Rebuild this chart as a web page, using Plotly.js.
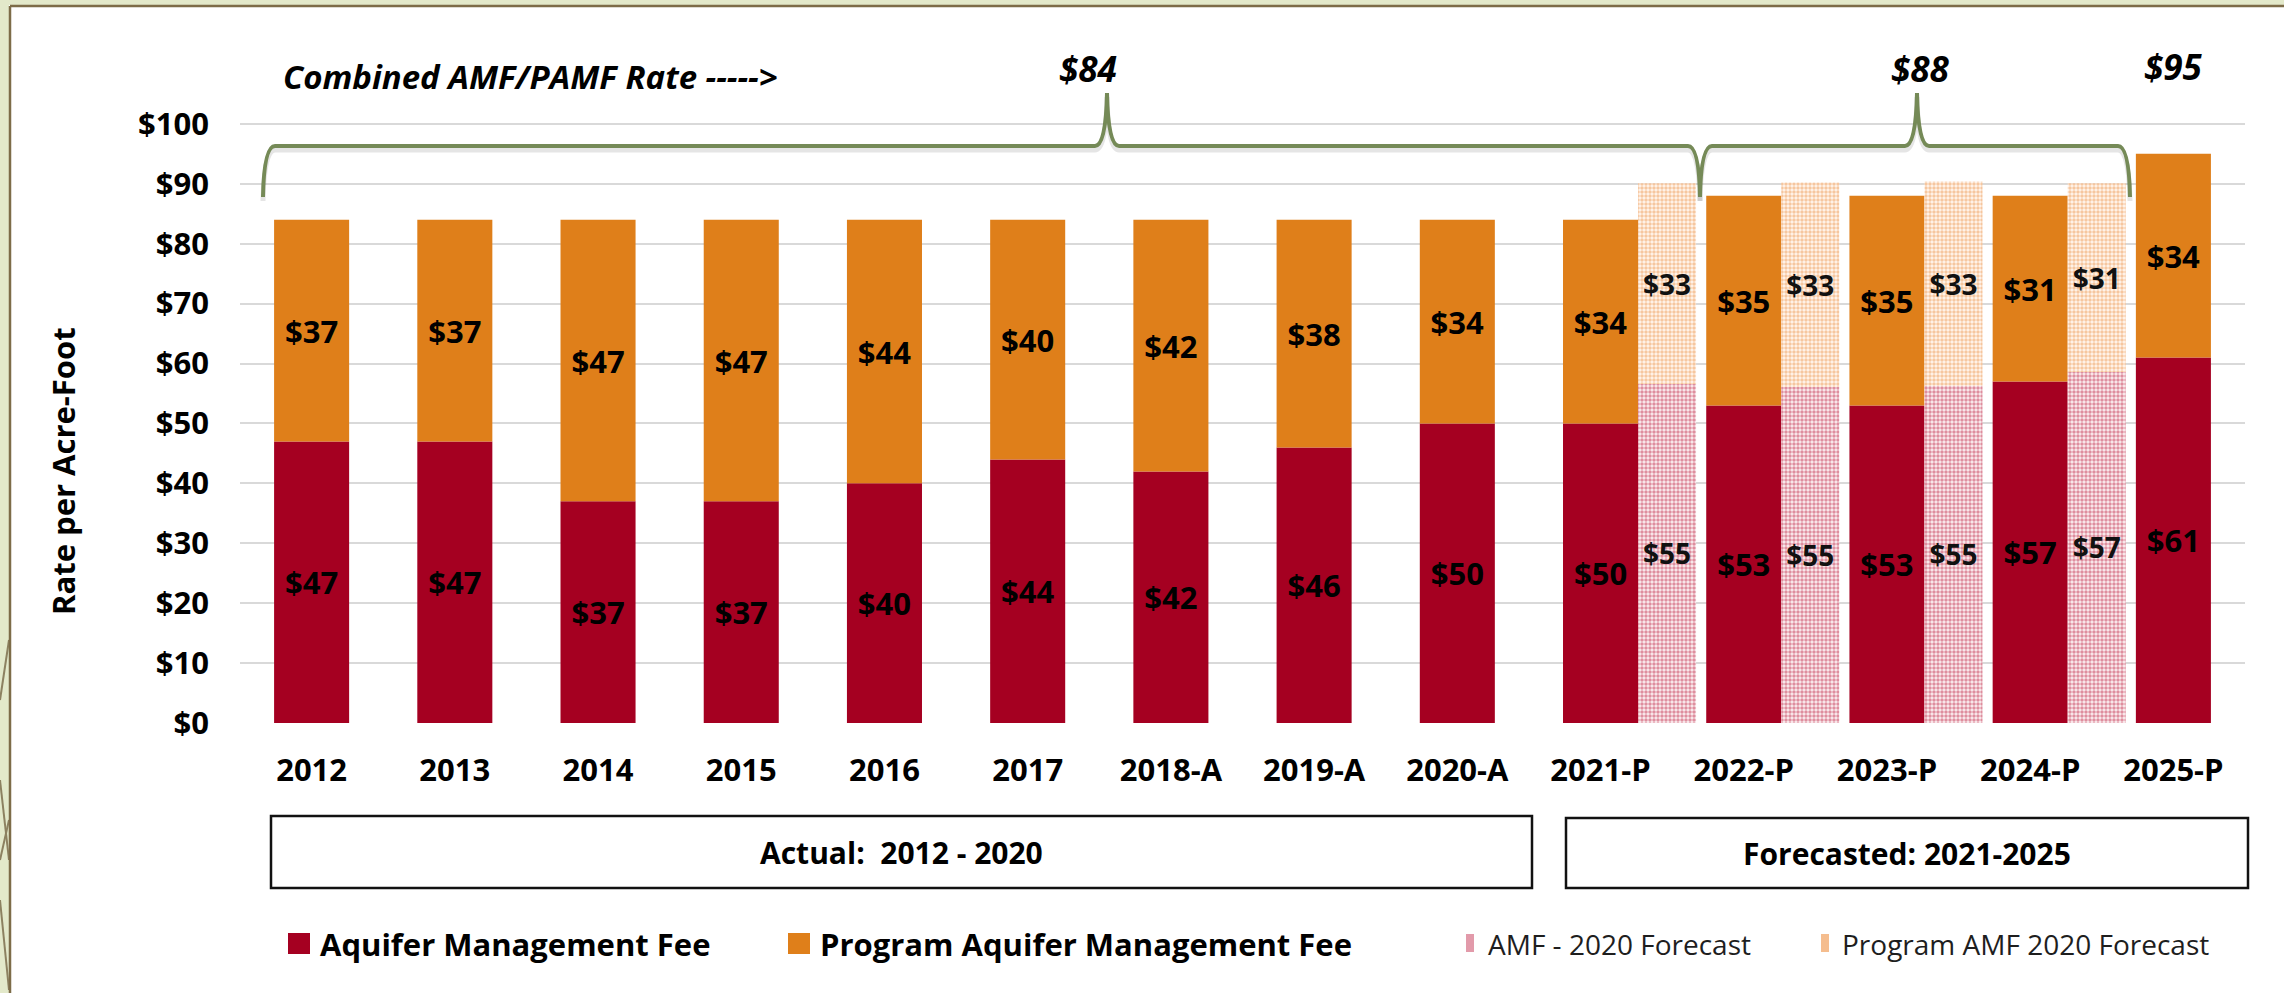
<!DOCTYPE html>
<html>
<head>
<meta charset="utf-8">
<script src="https://cdn.plot.ly/plotly-3.0.1.min.js"></script>
<style>
  html, body { margin: 0; padding: 0; background: #ffffff; }
  #chart { width: 2284px; height: 993px; }
</style>
</head>
<body>
<div id="chart"></div>
<script>
// ---------------- DATA ----------------
const categories = ['2012','2013','2014','2015','2016','2017','2018-A','2019-A','2020-A','2021-P','2022-P','2023-P','2024-P','2025-P'];
const amf  = [47, 47, 37, 37, 40, 44, 42, 46, 50, 50, 53, 53, 57, 61];
const pamf = [37, 37, 47, 47, 44, 40, 42, 38, 34, 34, 35, 35, 31, 34];

const forecastCats = ['2021-P','2022-P','2023-P','2024-P'];
const amfForecast  = [56.6, 56.1, 56.3, 58.6];
const pamfForecast = [33.5, 34.1, 34.1, 31.5];
const amfForecastLabels  = ['$55','$55','$55','$57'];
const pamfForecastLabels = ['$33','$33','$33','$31'];

const seriesNames = ['Aquifer Management Fee','Program Aquifer Management Fee','AMF - 2020 Forecast','Program AMF 2020 Forecast'];
const combinedLabel = 'Combined AMF/PAMF Rate ----->';
const combinedRates = ['$84','$88','$95'];
const periodLabels = ['Actual:&nbsp; 2012 - 2020','Forecasted: 2021-2025'];
const yTickVals = [0,10,20,30,40,50,60,70,80,90,100];
const yTitle = 'Rate per Acre-Foot';

// ---------------- STYLE ----------------
const RED = '#A50021', ORANGE = '#DF7F1A';
const FONT = "'Open Sans', 'Liberation Sans', Arial, sans-serif";
const W = 2284, H = 993, ML = 240, MR = 39, MT = 34, MB = 270;
const PW = W - ML - MR, PH = H - MT - MB;
const px = p => (p - ML) / PW;        // pixel x -> paper x
const py = p => (H - MB - p) / PH;    // pixel y -> paper y

const idx = categories.map((c, i) => i);
const fIdx = forecastCats.map(c => categories.indexOf(c));
const MAINW = 0.524, FW = 0.405;

const mainFont = { family: FONT, size: 31, color: '#000', weight: 'bold' };
const fcFont = { family: FONT, size: 28, color: '#111', weight: 'bold' };

const traces = [
  {
    type: 'bar', name: seriesNames[0], x: idx, y: amf, width: MAINW,
    marker: { color: RED },
    text: amf, texttemplate: '$%{text}', textposition: 'inside', insidetextanchor: 'middle', textangle: 0,
    insidetextfont: mainFont, constraintext: 'none', hoverinfo: 'skip', showlegend: false
  },
  {
    type: 'bar', name: seriesNames[1], x: idx, y: pamf, base: amf, width: MAINW,
    marker: { color: ORANGE },
    text: pamf, texttemplate: '$%{text}', textposition: 'inside', insidetextanchor: 'middle', textangle: 0,
    insidetextfont: mainFont, constraintext: 'none', hoverinfo: 'skip', showlegend: false
  },
  {
    type: 'bar', name: seriesNames[2], x: fIdx, y: amfForecast, width: FW, offset: MAINW / 2,
    marker: { color: '#FFFFFF', pattern: { shape: '.', fgcolor: '#C22E4C', bgcolor: '#FBEFF1', size: 4, solidity: 0.6, fillmode: 'overlay' } },
    text: amfForecastLabels, texttemplate: '%{text}', textposition: 'inside', insidetextanchor: 'middle', textangle: 0,
    insidetextfont: fcFont, constraintext: 'none', hoverinfo: 'skip', showlegend: false
  },
  {
    type: 'bar', name: seriesNames[3], x: fIdx, y: pamfForecast, base: amfForecast, width: FW, offset: MAINW / 2,
    marker: { color: '#FFFFFF', pattern: { shape: '.', fgcolor: '#EE9550', bgcolor: '#FFF6EE', size: 4, solidity: 0.6, fillmode: 'overlay' } },
    text: pamfForecastLabels, texttemplate: '%{text}', textposition: 'inside', insidetextanchor: 'middle', textangle: 0,
    insidetextfont: fcFont, constraintext: 'none', hoverinfo: 'skip', showlegend: false
  }
];

// ---------- decorative shapes (pixel positions converted to paper) ----------
function pathFromPx(pts) {
  return pts.map(s => s.replace(/(-?\d+(?:\.\d+)?),(-?\d+(?:\.\d+)?)/g,
    (m, a, b) => px(+a).toFixed(5) + ',' + py(+b).toFixed(5))).join(' ');
}
function brace(x0, xp, x1, yEnd, yH, yPeak) {
  return pathFromPx([
    `M${x0},${yEnd}`, `Q${x0+1},${yH} ${x0+12},${yH}`,
    `L${xp-12},${yH}`, `Q${xp-1},${yH} ${xp},${yPeak}`,
    `Q${xp+1},${yH} ${xp+12},${yH}`,
    `L${x1-12},${yH}`, `Q${x1-1},${yH} ${x1},${yEnd}`
  ]);
}
const braces = [brace(263, 1107, 1700, 197, 146, 93), brace(1700, 1917, 2130, 197, 146, 93)];

const shapes = [];
// slide frame
shapes.push({ type: 'rect', xref: 'paper', yref: 'paper', x0: px(0), x1: px(9), y0: py(993), y1: py(0), fillcolor: '#E3E9CA', line: { width: 0 }, layer: 'below' });
shapes.push({ type: 'rect', xref: 'paper', yref: 'paper', x0: px(0), x1: px(2284), y0: py(5), y1: py(0), fillcolor: '#E3E9CA', line: { width: 0 }, layer: 'below' });
[[0,700,9,640],[0,780,9,860],[0,900,9,990],[0,860,9,820]].forEach(s => shapes.push({ type: 'line', xref: 'paper', yref: 'paper', x0: px(s[0]), y0: py(s[1]), x1: px(s[2]), y1: py(s[3]), line: { color: '#8C8160', width: 2 } }));
shapes.push({ type: 'line', xref: 'paper', yref: 'paper', x0: px(10), x1: px(10), y0: py(6), y1: py(993), line: { color: '#7D6C48', width: 2.5 } });
shapes.push({ type: 'line', xref: 'paper', yref: 'paper', x0: px(10), x1: px(2284), y0: py(6), y1: py(6), line: { color: '#7D6C48', width: 2.5 } });
// braces (shadow then line)
braces.forEach(p => shapes.push({ type: 'path', xref: 'paper', yref: 'paper', path: p.replace(/,(-?\d+\.\d+)/g, (m, v) => ',' + (+v - 4 / PH).toFixed(5)), line: { color: 'rgba(0,0,0,0.10)', width: 5 } }));
braces.forEach(p => shapes.push({ type: 'path', xref: 'paper', yref: 'paper', path: p, line: { color: '#758A57', width: 4 } }));
// period boxes
const boxes = [[271, 816, 1532, 888], [1566, 818, 2248, 888]];
boxes.forEach(b => shapes.push({ type: 'rect', xref: 'paper', yref: 'paper', x0: px(b[0]), x1: px(b[2]), y0: py(b[3]), y1: py(b[1]), line: { color: '#111', width: 2.5 }, fillcolor: 'rgba(0,0,0,0)' }));
// legend swatches
const swatches = [[288, 933, 310, 954, RED], [788, 933, 810, 954, ORANGE], [1466, 934, 1474, 952, '#E29AAA'], [1821, 934, 1829, 952, '#F5BD8E']];
swatches.forEach(s => shapes.push({ type: 'rect', xref: 'paper', yref: 'paper', x0: px(s[0]), x1: px(s[2]), y0: py(s[3]), y1: py(s[1]), fillcolor: s[4], line: { width: 0 } }));

// ---------- annotations ----------
const ann = [];
ann.push({ xref: 'paper', yref: 'paper', x: px(63), y: py(471), text: '<b>' + yTitle + '</b>', textangle: -90, showarrow: false, font: { family: FONT, size: 31, color: '#000' }, xanchor: 'center', yanchor: 'middle' });
ann.push({ xref: 'paper', yref: 'paper', x: px(281), y: py(76), text: '<b><i>' + combinedLabel + '</i></b>', showarrow: false, font: { family: FONT, size: 33, color: '#000' }, xanchor: 'left', yanchor: 'middle' });
[[1088, 68], [1920, 68], [2173, 66]].forEach((p, i) => ann.push({ xref: 'paper', yref: 'paper', x: px(p[0]), y: py(p[1]), text: '<b><i>' + combinedRates[i] + '</i></b>', showarrow: false, font: { family: FONT, size: 35, color: '#000' }, xanchor: 'center', yanchor: 'middle' }));
boxes.forEach((b, i) => ann.push({ xref: 'paper', yref: 'paper', x: px((b[0] + b[2]) / 2), y: py((b[1] + b[3]) / 2), text: '<b>' + periodLabels[i] + '</b>', showarrow: false, font: { family: FONT, size: 30, color: '#000' }, xanchor: 'center', yanchor: 'middle' }));
const legX = [318, 818, 1486, 1840];
legX.forEach((x, i) => ann.push({ xref: 'paper', yref: 'paper', x: px(x), y: py(944), text: i < 2 ? '<b>' + seriesNames[i] + '</b>' : seriesNames[i], showarrow: false, font: { family: FONT, size: i < 2 ? 31 : 28, color: i < 2 ? '#000' : '#1E1E1E', weight: i < 2 ? 'bold' : 500 }, xanchor: 'left', yanchor: 'middle' }));

const layout = {
  width: W, height: H,
  margin: { l: ML, r: MR, t: MT, b: MB, pad: 0 },
  paper_bgcolor: '#FFFFFF', plot_bgcolor: '#FFFFFF',
  barmode: 'overlay', showlegend: false,
  font: { family: FONT, color: '#000' },
  xaxis: {
    range: [-0.5, categories.length - 0.5], tickmode: 'array', tickvals: idx, ticktext: categories,
    showgrid: false, zeroline: false, showline: false, ticks: '',
    tickfont: { family: FONT, size: 31, color: '#000', weight: 'bold' }, ticklabelstandoff: 26, fixedrange: true
  },
  yaxis: {
    range: [0, PH / 5.991], tickmode: 'array', tickvals: yTickVals, ticktext: yTickVals.map(v => '$' + v),
    showgrid: true, gridcolor: '#D9D9D9', gridwidth: 2, zeroline: false, showline: false, ticks: '',
    tickfont: { family: FONT, size: 31, color: '#000', weight: 'bold' }, ticklabelstandoff: 30, fixedrange: true
  },
  shapes: shapes,
  annotations: ann
};

Plotly.newPlot('chart', traces, layout, { staticPlot: true, displayModeBar: false });
</script>
</body>
</html>
